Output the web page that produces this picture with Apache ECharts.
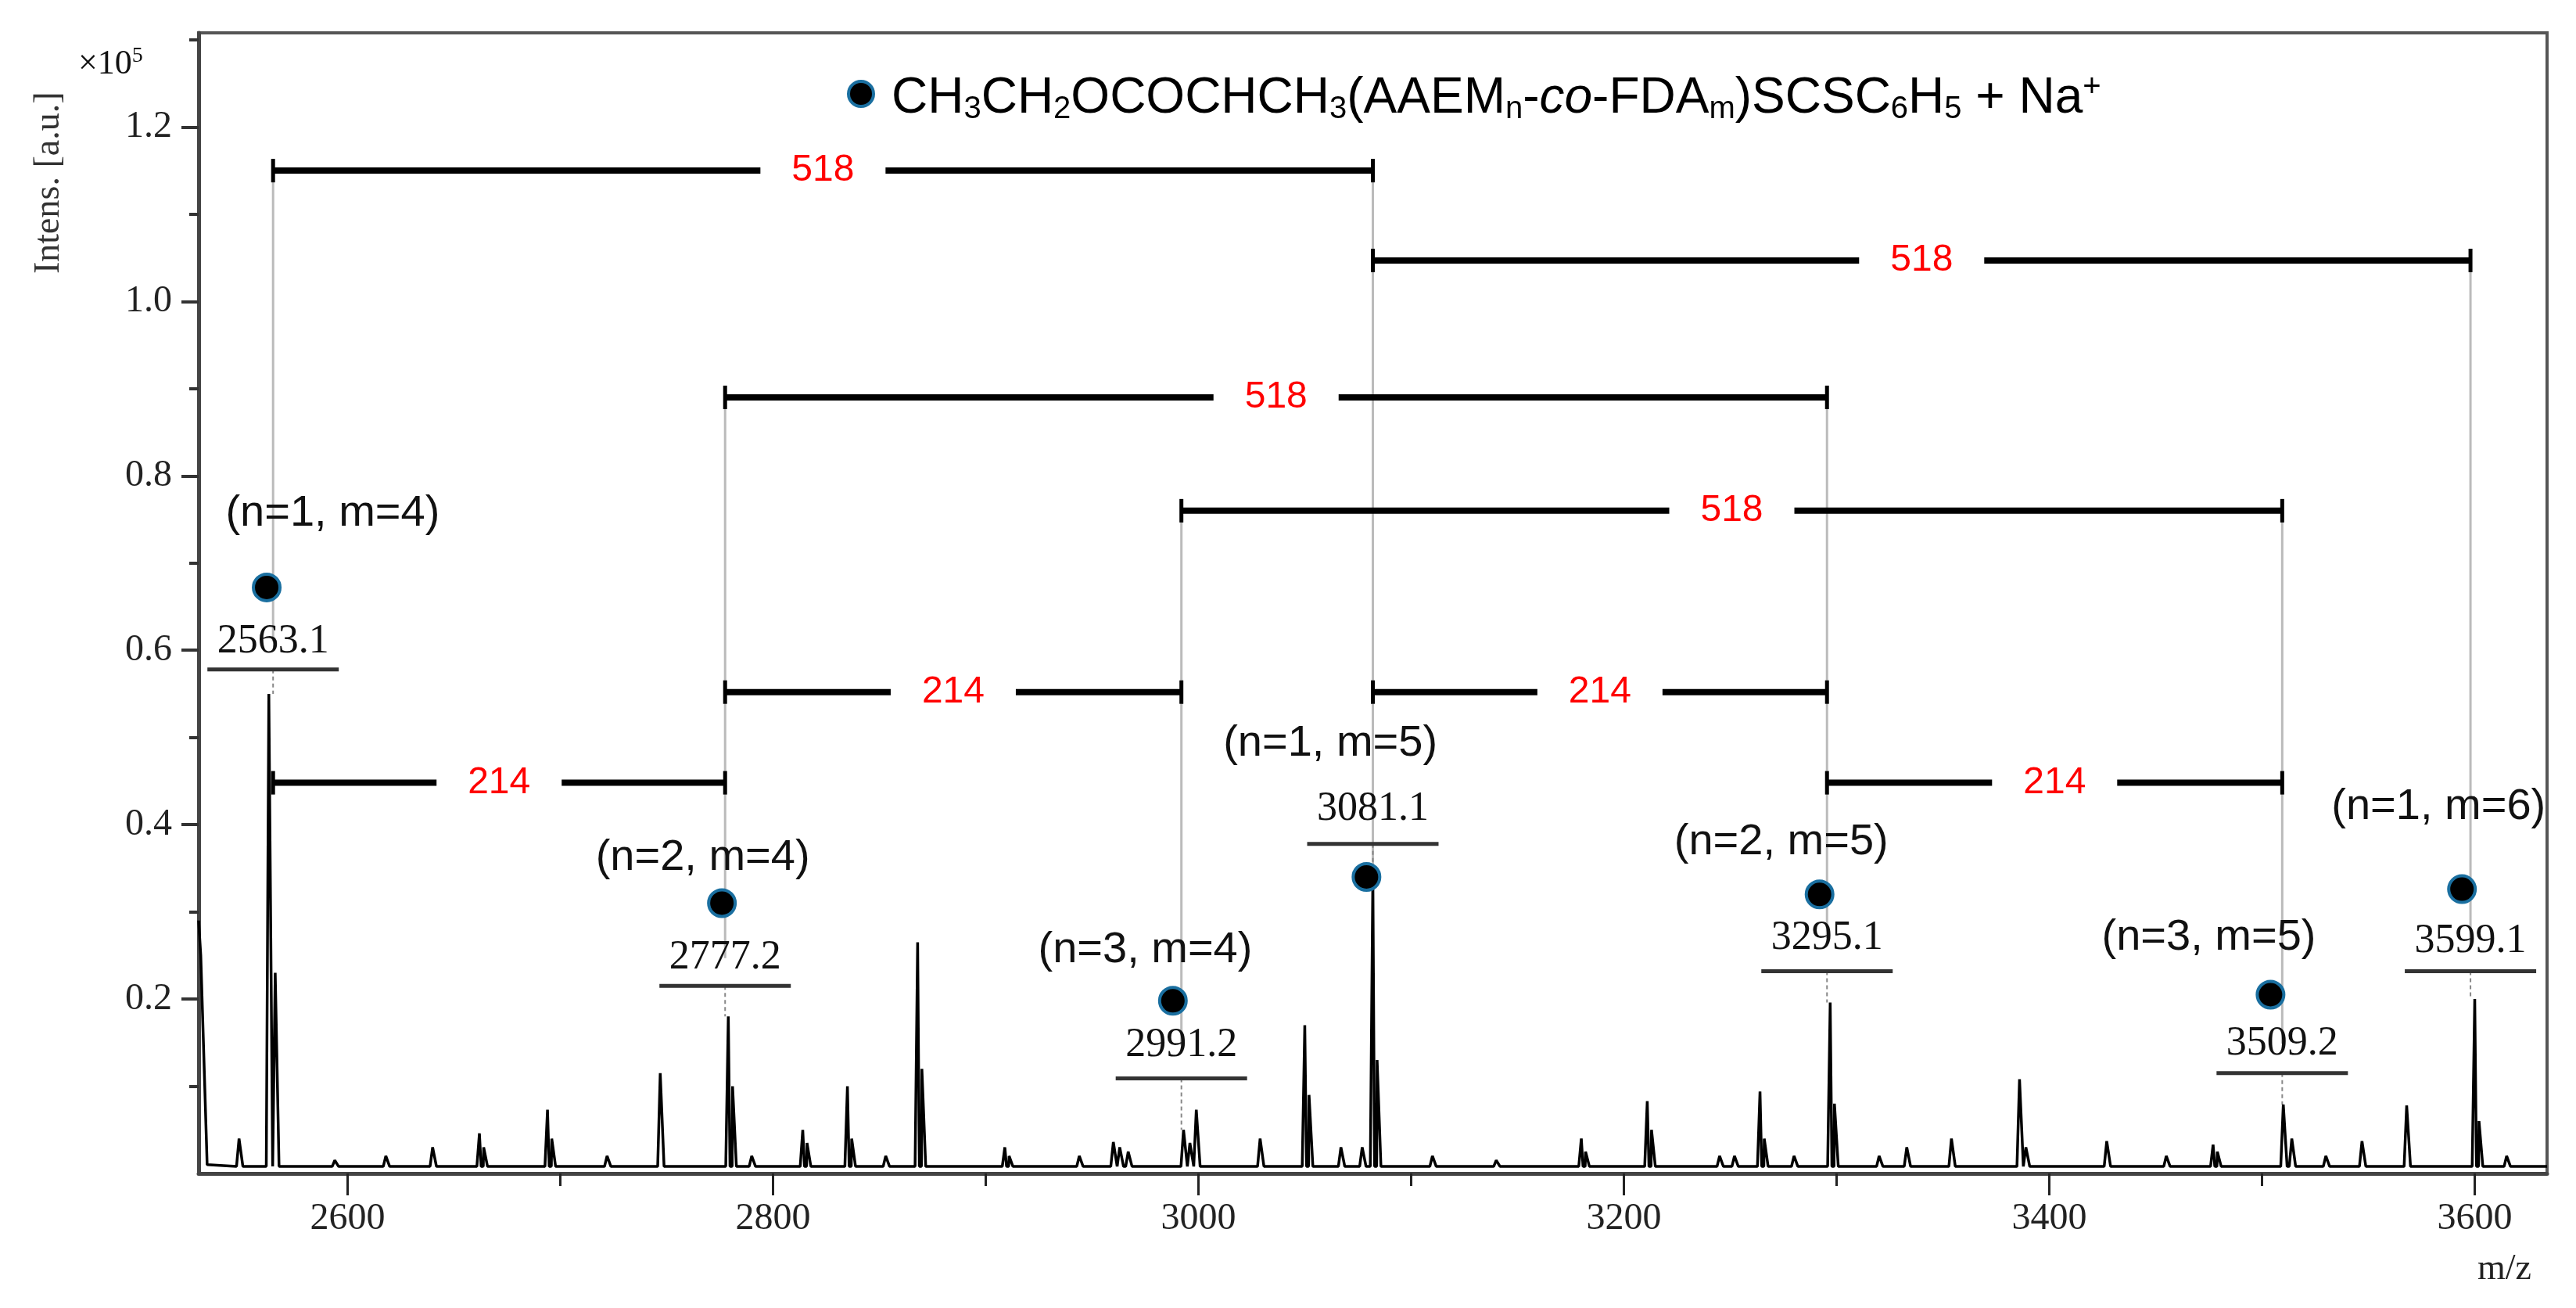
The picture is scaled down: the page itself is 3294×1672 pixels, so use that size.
<!DOCTYPE html>
<html>
<head>
<meta charset="utf-8">
<script src="https://cdn.jsdelivr.net/npm/echarts@6/dist/echarts.min.js"></script>
<style>html,body{margin:0;padding:0;background:#fff}#chart{width:3294px;height:1672px}</style>
</head>
<body>
<div id="chart"></div>
<script>
// spectrum peaks: m/z and intensity (x10^5)
var peakMz = [2549, 2563, 2566, 2594, 2618, 2640, 2662, 2664, 2694, 2696, 2722, 2747, 2779, 2781, 2790, 2814, 2816, 2835, 2837, 2853, 2868, 2870, 2909, 2911, 2944, 2960, 2963, 2967, 2993, 2996, 2999, 3029, 3050, 3052, 3067, 3077, 3082, 3084, 3110, 3140, 3180, 3182, 3211, 3213, 3245, 3252, 3264, 3266, 3280, 3297, 3299, 3320, 3333, 3354, 3386, 3389, 3427, 3455, 3477, 3479, 3510, 3514, 3530, 3547, 3568, 3600, 3602, 3615];
var peakInt = [0.04, 0.55, 0.23, 0.015, 0.02, 0.03, 0.046, 0.03, 0.073, 0.04, 0.02, 0.115, 0.18, 0.10, 0.02, 0.05, 0.035, 0.10, 0.04, 0.02, 0.265, 0.12, 0.03, 0.02, 0.02, 0.036, 0.03, 0.025, 0.05, 0.035, 0.073, 0.04, 0.17, 0.09, 0.03, 0.03, 0.34, 0.13, 0.02, 0.015, 0.04, 0.025, 0.083, 0.05, 0.02, 0.02, 0.094, 0.04, 0.02, 0.196, 0.08, 0.02, 0.03, 0.04, 0.108, 0.03, 0.037, 0.02, 0.033, 0.025, 0.079, 0.04, 0.02, 0.037, 0.078, 0.2, 0.06, 0.02];
var startMz = [2530, 2531, 2534];
var startInt = [0.29, 0.25, 0.01];
var baseline = 0.008;

// series markers
var markMz = [2562, 2776, 2988, 3079, 3292, 3504, 3594];
var markInt = [0.672, 0.31, 0.198, 0.34, 0.32, 0.205, 0.326];
var massLabels = ['2563.1', '2777.2', '2991.2', '3081.1', '3295.1', '3509.2', '3599.1'];
var massMz = [2565, 2777.5, 2992, 3082, 3295.5, 3509.5, 3598];
var massTextY = [0.61, 0.247, 0.147, 0.418, 0.27, 0.149, 0.266];
var massLineY = [0.578, 0.215, 0.109, 0.378, 0.232, 0.115, 0.232];
var massPeakY = [0.55, 0.18, 0.05, 0.34, 0.196, 0.079, 0.2];
var guideTop = [1.15, 0.89, 0.76, 1.15, 0.89, 0.76, 1.047];
var guideBottom = [0.61, 0.247, 0.147, 0.34, 0.27, 0.149, 0.266];

var compLabels = ['(n=1, m=4)', '(n=2, m=4)', '(n=3, m=4)', '(n=1, m=5)', '(n=2, m=5)', '(n=3, m=5)', '(n=1, m=6)'];
var compMz = [2593, 2767, 2975, 3062, 3274, 3475, 3583];
var compY = [0.757, 0.362, 0.256, 0.493, 0.38, 0.27, 0.42];

// spacing brackets
var brStart = [2565, 3082, 2777.5, 2992, 2777.5, 3082, 2565, 3295.5];
var brEnd = [3082, 3598, 3295.5, 3509.5, 2992, 3295.5, 2777.5, 3509.5];
var brY = [1.15, 1.047, 0.89, 0.76, 0.552, 0.552, 0.448, 0.448];
var brLabel = ['518', '518', '518', '518', '214', '214', '214', '214'];

var xTicks = [2600, 2700, 2800, 2900, 3000, 3100, 3200, 3300, 3400, 3500, 3600];
var xLabels = [2600, 2800, 3000, 3200, 3400, 3600];
var yTicks = [0.1, 0.2, 0.3, 0.4, 0.5, 0.6, 0.7, 0.8, 0.9, 1.0, 1.1, 1.2, 1.3];
var yLabels = [0.2, 0.4, 0.6, 0.8, 1.0, 1.2];

var spectrum = [];
for (var i = 0; i < startMz.length; i++) spectrum.push([startMz[i], startInt[i]]);
for (var i = 0; i < peakMz.length; i++) {
    spectrum.push([peakMz[i] - 1.2, baseline]);
    spectrum.push([peakMz[i], peakInt[i]]);
    spectrum.push([peakMz[i] + 1.8, baseline]);
}
spectrum.push([3634, baseline]);
spectrum.sort(function (a, b) { return a[0] - b[0]; });

var serif = '"Liberation Serif", "DejaVu Serif", serif';
var sans = '"Liberation Sans", Arial, sans-serif';
var myChart = echarts.init(document.getElementById('chart'));

var option = {
    backgroundColor: '#fff',
    animation: false,
    grid: { left: 254, right: 37, top: 42, bottom: 172, show: true, borderColor: '#555', borderWidth: 4 },
    xAxis: [{
        type: 'value', min: 2530, max: 3634,
        axisLine: { lineStyle: { color: '#444', width: 5 } },
        splitLine: { show: false },
        axisTick: { customValues: xTicks, length: 16, lineStyle: { color: '#222', width: 3 } },
        axisLabel: { customValues: xLabels, fontFamily: serif, fontSize: 48, color: '#222', margin: 34,
            formatter: function (v) { return String(v); } }
    }, {
        type: 'value', min: 2530, max: 3634, position: 'bottom',
        axisLine: { show: false }, splitLine: { show: false }, axisLabel: { show: false },
        axisTick: { customValues: xLabels, length: 28, lineStyle: { color: '#222', width: 3 } }
    }],
    yAxis: [{
        type: 'value', min: 0, max: 1.308,
        axisLine: { show: true, lineStyle: { color: '#444', width: 5 } },
        splitLine: { show: false },
        axisTick: { show: true, customValues: yTicks, length: 12, lineStyle: { color: '#333', width: 4 } },
        axisLabel: { customValues: yLabels, fontFamily: serif, fontSize: 48, color: '#222', margin: 34,
            formatter: function (v) { return v.toFixed(1); } }
    }, {
        type: 'value', min: 0, max: 1.308, position: 'left',
        axisLine: { show: false }, splitLine: { show: false }, axisLabel: { show: false },
        axisTick: { show: true, customValues: yLabels, length: 22, lineStyle: { color: '#333', width: 4 } }
    }],
    graphic: [
        { type: 'text', rotation: Math.PI / 2, x: 40, y: 350,
          style: { text: 'Intens. [a.u.]', font: '46px ' + serif, fill: '#333', letterSpacing: 6 } },
        { type: 'text', x: 100, y: 58, style: { text: '×10{s|5}', rich: { s: { fontSize: 28, fontFamily: serif, padding: [0, 0, 20, 0] } }, font: '44px ' + serif, fill: '#111' } },
        { type: 'text', x: 3168, y: 1600, style: { text: 'm/z', font: '46px ' + serif, fill: '#222' } },
        { type: 'circle', shape: { cx: 1101, cy: 120, r: 16 }, style: { fill: '#000', stroke: '#1a6fa0', lineWidth: 4 } },
        { type: 'text', x: 1140, y: 88, style: {
            text: '{m|CH}{s|3}{m|CH}{s|2}{m|OCOCHCH}{s|3}{m|(AAEM}{s|n}{m|-}{i|co}{m|-FDA}{s|m}{m|)SCSC}{s|6}{m|H}{s|5}{m| + Na}{p|+}',
            rich: {
                m: { fontSize: 64, fontFamily: sans, color: '#111', height: 76, verticalAlign: 'middle' },
                i: { fontSize: 64, fontFamily: sans, fontStyle: 'italic', color: '#111', height: 76 },
                s: { fontSize: 40, fontFamily: sans, color: '#111', padding: [28, 0, 0, 0] },
                p: { fontSize: 40, fontFamily: sans, color: '#111', padding: [0, 0, 28, 0] }
            } } }
    ],
    series: [
        {
            type: 'line', data: spectrum, showSymbol: false, symbol: 'none',
            lineStyle: { color: '#000', width: 3.5 }, z: 3
        },
        {
            // guide lines from brackets down to the labels
            type: 'custom', z: 1,
            data: massMz.map(function (x, i) { return [x, guideTop[i], guideBottom[i], massLineY[i], massPeakY[i]]; }),
            renderItem: function (params, api) {
                var a = api.coord([api.value(0), api.value(1)]);
                var b = api.coord([api.value(0), api.value(2)]);
                var c = api.coord([api.value(0), api.value(3)]);
                var d = api.coord([api.value(0), api.value(4)]);
                return { type: 'group', children: [
                    { type: 'line', shape: { x1: a[0], y1: a[1], x2: b[0], y2: b[1] }, style: { stroke: '#bbb', lineWidth: 3 } },
                    { type: 'line', shape: { x1: c[0], y1: c[1], x2: d[0], y2: d[1] }, style: { stroke: '#888', lineWidth: 2, lineDash: [5, 4] } }
                ] };
            }
        },
        {
            type: 'custom', z: 4,
            data: brStart.map(function (x, i) { return [x, brEnd[i], brY[i], brLabel[i]]; }),
            renderItem: function (params, api) {
                var p1 = api.coord([api.value(0), api.value(2)]);
                var p2 = api.coord([api.value(1), api.value(2)]);
                var mid = (p1[0] + p2[0]) / 2, y = p1[1], gap = 80;
                var ls = { stroke: '#000', lineWidth: 8 };
                return { type: 'group', children: [
                    { type: 'line', shape: { x1: p1[0], y1: y, x2: mid - gap, y2: y }, style: ls },
                    { type: 'line', shape: { x1: mid + gap, y1: y, x2: p2[0], y2: y }, style: ls },
                    { type: 'line', shape: { x1: p1[0], y1: y - 15, x2: p1[0], y2: y + 15 }, style: { stroke: '#000', lineWidth: 5 } },
                    { type: 'line', shape: { x1: p2[0], y1: y - 15, x2: p2[0], y2: y + 15 }, style: { stroke: '#000', lineWidth: 5 } },
                    { type: 'text', x: mid, y: y, style: { text: api.value(3) + '', fill: '#f00', font: '48px ' + sans, align: 'center', verticalAlign: 'middle' } }
                ] };
            }
        },
        {
            type: 'custom', z: 4,
            data: massMz.map(function (x, i) { return [x, massTextY[i], massLineY[i], massLabels[i]]; }),
            renderItem: function (params, api) {
                var t = api.coord([api.value(0), api.value(1)]);
                var l = api.coord([api.value(0), api.value(2)]);
                return { type: 'group', children: [
                    { type: 'text', x: t[0], y: t[1], style: { text: api.value(3) + '', fill: '#111', font: '52px ' + serif, letterSpacing: 4, align: 'center', verticalAlign: 'middle' } },
                    { type: 'line', shape: { x1: l[0] - 84, y1: l[1], x2: l[0] + 84, y2: l[1] }, style: { stroke: '#333', lineWidth: 5 } }
                ] };
            }
        },
        {
            type: 'custom', z: 4,
            data: compMz.map(function (x, i) { return [x, compY[i], compLabels[i]]; }),
            renderItem: function (params, api) {
                var t = api.coord([api.value(0), api.value(1)]);
                return { type: 'text', x: t[0], y: t[1], style: { text: api.value(2) + '', fill: '#111', font: '56px ' + sans, align: 'center', verticalAlign: 'middle' } };
            }
        },
        {
            type: 'scatter', z: 5, symbolSize: 34,
            data: markMz.map(function (x, i) { return [x, markInt[i]]; }),
            itemStyle: { color: '#000', borderColor: '#1a6fa0', borderWidth: 4, opacity: 1 }
        }
    ]
};
myChart.setOption(option);
</script>
</body>
</html>
